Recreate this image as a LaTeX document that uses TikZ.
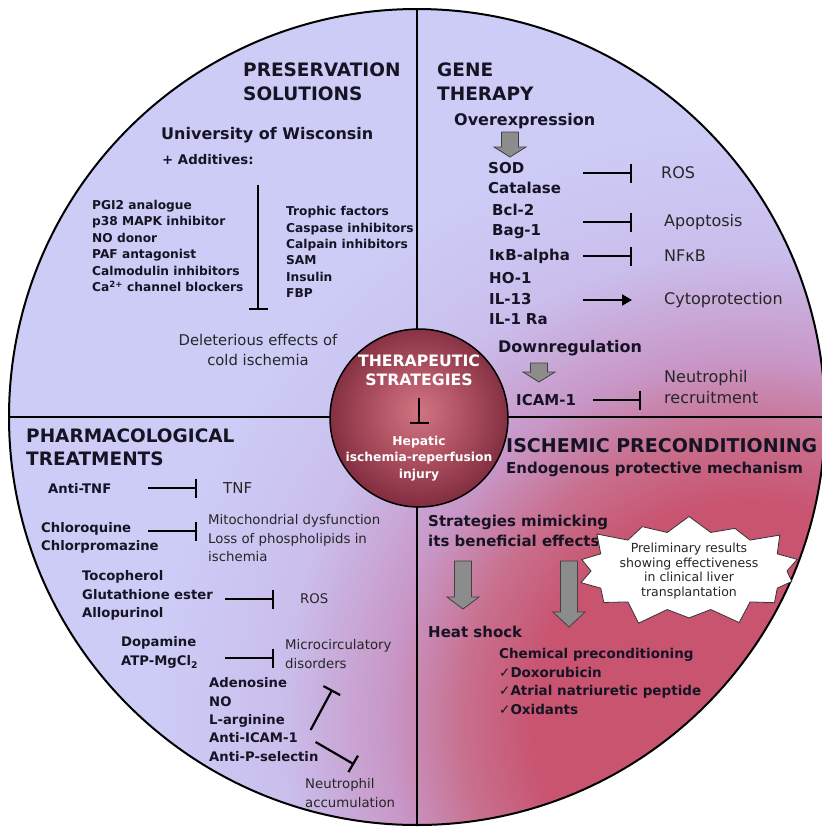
\documentclass[tikz,border=0pt]{standalone}
\usepackage{fontspec}
\setmainfont{DejaVu Sans}
\usepackage{tikz}
\usetikzlibrary{arrows.meta, calc, positioning, shapes.symbols}

\definecolor{lav}{RGB}{204,204,247}
\definecolor{lavmid}{RGB}{202,190,236}
\definecolor{pinkm}{RGB}{200,150,198}
\definecolor{crimlt}{RGB}{200,112,142}
\definecolor{crim}{RGB}{200,84,112}
\definecolor{corein}{RGB}{208,116,130}
\definecolor{coremid}{RGB}{180,86,102}
\definecolor{coreout}{RGB}{132,48,66}
\definecolor{arrgray}{RGB}{140,140,140}
\definecolor{ink}{RGB}{22,20,36}

\pgfdeclareradialshading{glow}{\pgfpoint{0bp}{0bp}}{color(0bp)=(crim); color(6bp)=(crim); color(8bp)=(crimlt); color(10bp)=(pinkm); color(13bp)=(lavmid); color(16.5bp)=(lav); color(50bp)=(lav)}
\pgfdeclareradialshading{core}{\pgfpoint{0bp}{2bp}}{color(0bp)=(corein); color(11bp)=(coremid); color(25bp)=(coreout); color(50bp)=(coreout)}

\tikzset{
  txt/.style={anchor=west, align=left, inner sep=0pt, text=ink},
  quadtitle/.style={txt, font=\bfseries\fontsize{18.5}{24}\selectfont},
  subtitle/.style={txt, font=\bfseries\fontsize{16}{20}\selectfont},
  bitem/.style 2 args={txt, font=\bfseries\fontsize{#1}{#2}\selectfont},
  ritem/.style 2 args={txt, text=black!85, font=\fontsize{#1}{#2}\selectfont},
  coretext/.style 2 args={align=center, inner sep=0pt, text=white, font=\bfseries\fontsize{#1}{#2}\selectfont},
  burstnote/.style={starburst, starburst points=14, starburst point height=21pt, draw=black!80, fill=white,
    line width=0.8pt, inner sep=0pt, align=center, text=black!85, font=\fontsize{12.5}{14.6}\selectfont},
  inhibit/.style={line width=2.2pt, -{Bar[width=19pt]}},
  promote/.style={line width=2.2pt, -{Triangle[width=11pt,length=10pt]}},
  fatarr/.style={fill=arrgray, draw=black!75, line width=0.8pt},
}
% 太い下向き矢印: x, 上端, 矢じり始まり, 先端
\newcommand{\fatarrow}[4]{%
  \draw[fatarr] (#1-8.5,#2) -- (#1+8.5,#2) -- (#1+8.5,#3) -- (#1+16,#3) -- (#1,#4) -- (#1-16,#3) -- (#1-8.5,#3) -- cycle;}

\begin{document}
\begin{tikzpicture}[x=1pt, y=-1pt]
  \useasboundingbox (0,0) rectangle (822,828);
  \begin{scope}
    \clip (417,417) circle (408);
    \shade[shading=glow] (750,720) circle (900); %背景
  \end{scope}
  \draw[line width=2pt] (417,417) circle (408); %外円
  \draw[line width=1.6pt] (417,9) -- (417,825); %縦線
  \draw[line width=1.6pt] (9,417) -- (825,417); %横線
  \shade[shading=core] (419,418) circle (89); %中心
  \draw[line width=1.5pt] (419,418) circle (89);

  % preservation solutions
  \node[quadtitle] (pres) at (243,82) {PRESERVATION\\SOLUTIONS};
  \node[subtitle] (uw) at (161,135) {University of Wisconsin};
  \node[bitem={13.3}{16}] (add) at (162,160) {+ Additives:};
  \node[bitem={12.2}{16.4}] (leftadd) at (92,246) {PGI2 analogue\\p38 MAPK inhibitor\\NO donor\\PAF antagonist\\Calmodulin inhibitors\\Ca\textsuperscript{2+} channel blockers};
  \node[bitem={12.2}{16.4}] (rightadd) at (286,252) {Trophic factors\\Caspase inhibitors\\Calpain inhibitors\\SAM\\Insulin\\FBP};
  \node[ritem={14.8}{20}, anchor=center, align=center] (dele) at (258,350) {Deleterious effects of\\cold ischemia};
  \draw[inhibit, shorten <=20pt, shorten >=24pt] (add.south -| dele.north) -- (dele.north);

  % gene therapy
  \node[quadtitle] (gene) at (437,82) {GENE\\THERAPY};
  \node[subtitle] (over) at (454,121) {Overexpression};
  \fatarrow{510}{132}{147}{157}
  \node[bitem={15}{20.5}, text width=90pt] (sod) at (488,178) {SOD\\Catalase};
  \node[ritem={16}{21}] (ros) at (661,173) {ROS};
  \node[bitem={15}{20.5}, text width=86pt] (bcl) at (492,221.5) {Bcl-2\\Bag-1};
  \node[ritem={16}{21}] (apo) at (664,222) {Apoptosis};
  \node[bitem={15}{20.5}, text width=89pt] (ikb) at (489,256) {IκB-alpha};
  \node[ritem={16}{21}] (nfkb) at (664,256) {NFκB};
  \node[bitem={15}{20.5}, text width=89pt] (ho) at (489,299) {HO-1\\IL-13\\IL-1 Ra};
  \node[ritem={16}{21}] (cyto) at (664,300) {Cytoprotection};
  \node[subtitle] (down) at (498,348) {Downregulation};
  \fatarrow{539}{363}{372}{382}
  \node[bitem={15}{20.5}, text width=72pt] (icam) at (516,400) {ICAM-1};
  \node[ritem={16}{21}] (neut) at (664,387.5) {Neutrophil\\recruitment};
  \draw[inhibit, shorten <=5pt, shorten >=29pt] (sod.east |- ros.west) -- (ros.west);
  \draw[inhibit, shorten <=5pt, shorten >=32pt] (bcl.east |- apo.west) -- (apo.west);
  \draw[inhibit, shorten <=5pt, shorten >=32pt] (ikb.east) -- (nfkb.west);
  \draw[promote, shorten <=5pt, shorten >=32pt] (ho.east |- cyto.west) -- (cyto.west);
  \draw[inhibit, shorten <=5pt, shorten >=23pt] (icam.east) -- (icam.east -| neut.west);

  % center
  \node[coretext={15.7}{19}] (ther) at (419,370.5) {THERAPEUTIC\\STRATEGIES};
  \node[coretext={12.3}{16.5}] (hep) at (419,458.5) {Hepatic\\ischemia-reperfusion\\injury};
  \draw[inhibit, shorten <=12pt, shorten >=12pt] (ther.south) -- (hep.north);

  % pharmacological treatments
  \node[quadtitle, font=\bfseries\fontsize{18.5}{23}\selectfont] (pharm) at (26,447.5) {PHARMACOLOGICAL\\TREATMENTS};
  \node[bitem={13.2}{18.5}, text width=95pt] (antitnf) at (48,488) {Anti-TNF};
  \node[ritem={15}{18.5}] (tnf) at (223,488) {TNF};
  \node[bitem={13.2}{18.5}, text width=125pt] (chloro) at (41,538) {Chloroquine\\Chlorpromazine};
  \node[ritem={13.3}{18.5}] (mito) at (208,538.5) {Mitochondrial dysfunction\\Loss of phospholipids in\\ischemia};
  \node[bitem={13.2}{18.5}, text width=138pt] (toco) at (82,595.5) {Tocopherol\\Glutathione ester\\Allopurinol};
  \node[ritem={13.3}{18.5}] (ros2) at (300,599) {ROS};
  \node[bitem={13.2}{18.5}, text width=99pt] (dopa) at (121,652.5) {Dopamine\\ATP-MgCl\textsubscript{2}};
  \node[ritem={13.3}{18.5}] (micro) at (285,654) {Microcirculatory\\disorders};
  \node[bitem={13.2}{18.3}] (adeno) at (209,719.5) {Adenosine\\NO\\L-arginine\\Anti-ICAM-1\\Anti-P-selectin};
  \node[ritem={13.3}{18.5}] (neut2) at (305,793) {Neutrophil\\accumulation};
  \draw[inhibit, shorten <=5pt, shorten >=26pt] (antitnf.east) -- (tnf.west);
  \draw[inhibit, shorten <=-18pt, shorten >=11pt] ([yshift=7pt]chloro.east) -- ([yshift=7pt]chloro.east -| mito.west);
  \draw[inhibit, shorten <=5pt, shorten >=26pt] (toco.east |- ros2.west) -- (ros2.west);
  \draw[inhibit, shorten <=5pt, shorten >=11pt] ([yshift=-5.5pt]dopa.east) -- ([yshift=-5.5pt]dopa.east -| micro.west);
  \draw[inhibit] ($(adeno.east)+(-8,10.5)$) -- ($(micro.south)+(-6,21)$);
  \draw[inhibit] ($(adeno.east)+(-3,22.5)$) -- ($(neut2.north)+(4,-14)$);

  % ischemic preconditioning
  \node[quadtitle, font=\bfseries\fontsize{19}{24}\selectfont] (isch) at (506,446) {ISCHEMIC PRECONDITIONING};
  \node[subtitle, font=\bfseries\fontsize{15}{20}\selectfont] (endo) at (506,469) {Endogenous protective mechanism};
  \node[bitem={15}{20}] (strat) at (428,531) {Strategies mimicking\\its beneficial effects};
  \node[burstnote] (prelim) at (689,571) {Preliminary results\\showing effectiveness\\in clinical liver\\transplantation};
  \fatarrow{463}{561}{597}{609}
  \fatarrow{569}{561}{612}{627}
  \node[bitem={15}{20}] (heat) at (428,632) {Heat shock};
  \node[bitem={13.5}{18.5}] (chem) at (499,681.5) {Chemical preconditioning\\{\mdseries ✓}Doxorubicin\\{\mdseries ✓}Atrial natriuretic peptide\\{\mdseries ✓}Oxidants};
\end{tikzpicture}
\end{document}
